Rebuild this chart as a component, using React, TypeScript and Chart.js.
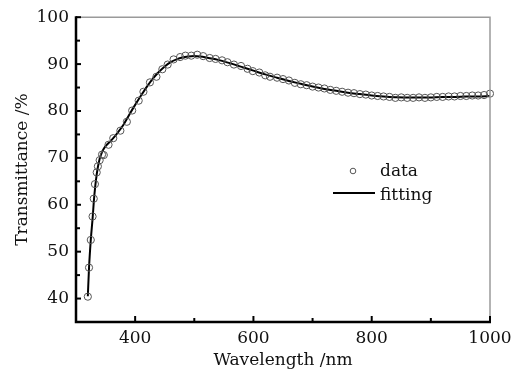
import React, { useEffect, useRef } from 'react';
import { Chart, registerables } from 'chart.js';

Chart.register(...registerables);

// Measured data points (wavelength nm, transmittance %)
const dataWavelength = [
  320, 322, 325, 328, 330, 332, 335, 337, 340, 344, 347, 355, 363, 375, 386, 395,
  406, 414, 425, 436, 446, 455, 465, 476, 485, 495, 505, 515, 526, 536, 547, 556,
  567, 579, 590, 599, 610, 620, 628, 640, 650, 660, 670, 680, 690, 700, 710, 720,
  730, 740, 750, 760, 770, 780, 790, 800, 810, 820, 830, 840, 850, 860, 870, 880,
  890, 900, 910, 920, 930, 940, 950, 960, 970, 980, 990, 1000,
];
const dataTransmittance = [
  40.4, 46.6, 52.5, 57.5, 61.3, 64.4, 66.9, 68.2, 69.5, 70.7, 70.6, 72.8, 74.2, 75.8, 77.7, 80.1,
  82.2, 84.1, 86.1, 87.3, 88.9, 89.9, 91.0, 91.5, 91.8, 91.8, 92.0, 91.7, 91.3, 91.1, 90.8, 90.4,
  89.9, 89.6, 89.0, 88.5, 88.2, 87.6, 87.3, 87.1, 86.8, 86.5, 86.0, 85.7, 85.5, 85.2, 85.0, 84.8,
  84.5, 84.3, 84.1, 83.9, 83.8, 83.6, 83.5, 83.3, 83.2, 83.1, 83.0, 82.8, 82.9, 82.8, 82.8, 82.9,
  82.8, 82.9, 83.0, 83.0, 83.1, 83.1, 83.2, 83.2, 83.3, 83.3, 83.4, 83.7,
];

// Fitted curve
const fitWavelength = [
  320, 322, 325, 328, 331, 335, 340, 345, 350, 360, 370, 380, 390, 400, 410, 420,
  430, 440, 450, 460, 470, 480, 490, 500, 510, 520, 540, 560, 580, 600, 620, 640,
  660, 680, 700, 720, 740, 760, 780, 800, 820, 840, 860, 880, 900, 920, 940, 960,
  980, 1000,
];
const fitTransmittance = [
  40.5, 46.5, 52.5, 57.0, 62.0, 66.5, 69.8, 71.5, 72.5, 73.8, 75.3, 77.0, 79.2, 81.3, 83.3, 85.2,
  86.9, 88.3, 89.5, 90.4, 91.0, 91.4, 91.6, 91.7, 91.6, 91.4, 90.9, 90.2, 89.4, 88.6, 87.8, 87.1,
  86.4, 85.8, 85.2, 84.7, 84.3, 83.9, 83.6, 83.3, 83.1, 82.95, 82.85, 82.85, 82.9, 83.0, 83.0, 83.1,
  83.1, 83.2,
];

const xMajorTicks = [400, 600, 800, 1000];
const xMinorTicks = [500, 700, 900];
const yMajorTicks = [40, 50, 60, 70, 80, 90, 100];
const yMinorTicks = [45, 55, 65, 75, 85, 95];

const FONT = 'DejaVu Serif';

const framePlugin = {
  id: 'frame',
  afterDatasetsDraw(chart: any) {
    const { ctx, chartArea, scales } = chart;
    const { left, right, top, bottom } = chartArea;
    const x = scales.x;
    const y = scales.y;
    ctx.save();
    ctx.lineCap = 'butt';
    ctx.strokeStyle = '#9a9a9a';
    ctx.lineWidth = 1.5;
    ctx.beginPath();
    ctx.moveTo(left, top);
    ctx.lineTo(right, top);
    ctx.lineTo(right, bottom);
    ctx.stroke();

    ctx.strokeStyle = '#000';
    ctx.lineWidth = 2;
    const seg = (x1: number, y1: number, x2: number, y2: number) => {
      ctx.beginPath();
      ctx.moveTo(x1, y1);
      ctx.lineTo(x2, y2);
      ctx.stroke();
    };
    yMajorTicks.forEach((v) => { const p = y.getPixelForValue(v); seg(left, p, left + 5, p); });
    yMinorTicks.forEach((v) => { const p = y.getPixelForValue(v); seg(left, p, left + 4, p); });
    xMajorTicks.forEach((v) => { const p = x.getPixelForValue(v); seg(p, bottom, p, bottom - 6); });
    xMinorTicks.forEach((v) => { const p = x.getPixelForValue(v); seg(p, bottom, p, bottom - 4); });

    ctx.lineWidth = 2.5;
    ctx.beginPath();
    ctx.moveTo(left, top - 1);
    ctx.lineTo(left, bottom);
    ctx.lineTo(right + 1, bottom);
    ctx.stroke();

    // legend
    ctx.lineWidth = 1;
    ctx.strokeStyle = '#555';
    ctx.beginPath();
    ctx.arc(353, 171, 2.8, 0, Math.PI * 2);
    ctx.stroke();
    ctx.strokeStyle = '#000';
    ctx.lineWidth = 2;
    seg(333, 193, 375, 193);
    ctx.fillStyle = '#111';
    ctx.font = `17px "${FONT}"`;
    ctx.textBaseline = 'alphabetic';
    ctx.textAlign = 'left';
    ctx.fillText('data', 380, 176);
    ctx.fillText('fitting', 380, 200);
    ctx.restore();
  },
};

export default function App() {
  const ref = useRef<HTMLCanvasElement>(null);
  useEffect(() => {
    document.body.style.margin = '0';
    Chart.defaults.font.family = FONT;
    Chart.defaults.color = '#111';
    const chart = new Chart(ref.current as HTMLCanvasElement, {
      type: 'scatter',
      data: {
        datasets: [
          {
            label: 'fitting',
            type: 'line',
            data: fitWavelength.map((w, i) => ({ x: w, y: fitTransmittance[i] })),
            borderColor: '#000',
            borderWidth: 2,
            pointRadius: 0,
            showLine: true,
            cubicInterpolationMode: 'monotone',
            fill: false,
            order: 2,
          } as any,
          {
            label: 'data',
            data: dataWavelength.map((w, i) => ({ x: w, y: dataTransmittance[i] })),
            borderColor: '#555',
            backgroundColor: 'rgba(0,0,0,0)',
            borderWidth: 1,
            pointRadius: 3.6,
            showLine: false,
            clip: 4,
            order: 1,
          } as any,
        ],
      },
      options: {
        animation: false,
        responsive: false,
        maintainAspectRatio: false,
        layout: { padding: { top: 14, right: 37, left: 0, bottom: 0 } },
        plugins: { legend: { display: false }, tooltip: { enabled: false } },
        scales: {
          x: {
            type: 'linear',
            min: 300,
            max: 1000,
            afterBuildTicks: (s: any) => { s.ticks = xMajorTicks.map((v) => ({ value: v })); },
            afterFit: (s: any) => { s.height = 53; },
            grid: { display: false, drawTicks: false },
            border: { display: false },
            ticks: { font: { size: 17, family: FONT }, color: '#111', padding: 6, maxRotation: 0, callback: (v: any) => String(v) },
            title: { display: true, text: 'Wavelength /nm', font: { size: 17, family: FONT }, color: '#111', padding: { top: 0, bottom: 4 } },
          },
          y: {
            type: 'linear',
            min: 35,
            max: 100,
            afterBuildTicks: (s: any) => { s.ticks = yMajorTicks.map((v) => ({ value: v })); },
            afterFit: (s: any) => { s.width = 76; },
            grid: { display: false, drawTicks: false },
            border: { display: false },
            ticks: { font: { size: 17, family: FONT }, color: '#111', padding: 7, callback: (v: any) => String(v) },
            title: { display: true, text: 'Transmittance /%', font: { size: 17, family: FONT }, color: '#111', padding: { top: 12, bottom: 0 } },
          },
        },
      },
      plugins: [framePlugin],
    });
    return () => chart.destroy();
  }, []);
  return (
    <div style={{ position: 'fixed', left: 0, top: 0, width: 527, height: 375, background: '#fff' }}>
      <canvas ref={ref} width={527} height={375} />
    </div>
  );
}
